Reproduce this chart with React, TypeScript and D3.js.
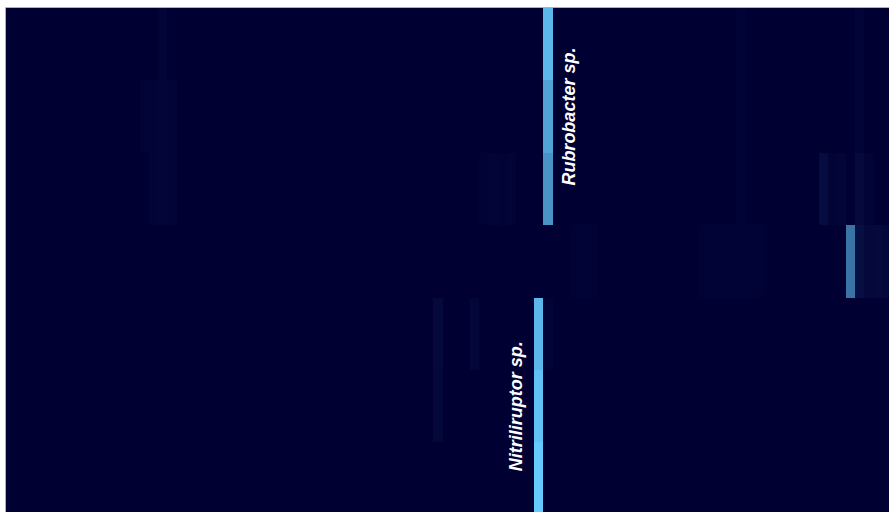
import * as d3 from 'd3';
import React from 'react';

// samples (rows) and taxa (columns) of the abundance heatmap
const sampleIds = ['S1', 'S2', 'S3', 'S4', 'S5', 'S6', 'S7'];
const taxonCount = 100;

// sparse cells: [sample index, taxon index, relative abundance 0..1]
const cells: [number, number, number][] = [
  // Rubrobacter sp.
  [0, 59, 0.9], [1, 59, 0.8], [2, 59, 0.72],
  // Nitriliruptor sp.
  [4, 58, 0.9], [5, 58, 0.95], [6, 58, 0.99],
  // strongest cell of sample 4
  [3, 92, 0.57], [3, 93, 0.07], [3, 94, 0.04], [3, 95, 0.05], [3, 96, 0.035],
  // faint background hits
  [0, 17, 0.015], [1, 15, 0.02], [1, 16, 0.022], [1, 17, 0.025], [1, 18, 0.015],
  [2, 16, 0.018], [2, 17, 0.025], [2, 18, 0.018],
  [4, 47, 0.04], [5, 47, 0.035], [4, 51, 0.03], [4, 59, 0.02],
  [2, 52, 0.012], [2, 53, 0.018], [2, 54, 0.012], [2, 55, 0.018],
  [2, 89, 0.06], [2, 90, 0.02], [2, 91, 0.025], [2, 93, 0.045], [2, 94, 0.015],
  [0, 93, 0.02], [1, 93, 0.02],
  [3, 62, 0.01], [3, 63, 0.01], [3, 64, 0.01],
  [3, 76, 0.01], [3, 77, 0.012], [3, 78, 0.008], [3, 79, 0.012], [3, 80, 0.012], [3, 81, 0.008], [3, 82, 0.012],
  [0, 80, 0.008], [1, 80, 0.008], [2, 80, 0.01],
];

const annotations = [
  { taxon: 59, from: 0, to: 2, text: 'Rubrobacter sp.', side: 'right' },
  { taxon: 58, from: 4, to: 6, text: 'Nitriliruptor sp.', side: 'left' },
];

const W = 889;
const H = 512;
const clipX = 6;
const clipY = 8;

const App: React.FC = () => {
  const colW = 9.17;
  const x = d3.scaleBand<number>()
    .domain(d3.range(taxonCount))
    .range([2.4, 2.4 + taxonCount * colW]);
  const y = d3.scaleBand<string>()
    .domain(sampleIds)
    .range([clipY, clipY + sampleIds.length * 72.4]);
  const color = d3.scaleSequential(d3.interpolateRgb('#000033', '#66ccff')).domain([0, 1]);

  return (
    <svg width={W} height={H} style={{ position: 'absolute', left: 0, top: 0 }}>
      <defs>
        <clipPath id="hm-clip">
          <rect x={clipX} y={clipY} width={W} height={H} />
        </clipPath>
      </defs>
      <g clipPath="url(#hm-clip)">
        <rect x={clipX} y={clipY} width={W} height={H} fill={color(0)} />
        <g shapeRendering="crispEdges">
          {cells.map(([r, c, v]) => (
            <rect
              key={`${r}-${c}`}
              x={x(c)}
              y={y(sampleIds[r])}
              width={x.bandwidth()}
              height={y.bandwidth()}
              fill={color(v)}
            />
          ))}
        </g>
        {annotations.map(a => {
          const x0 = x(a.taxon) as number;
          const yTop = y(sampleIds[a.from]) as number;
          const yBot = (y(sampleIds[a.to]) as number) + y.bandwidth();
          const cy = (yTop + yBot) / 2;
          const bx = a.side === 'right' ? x0 + x.bandwidth() + 22 : x0 - 12;
          return (
            <text
              key={a.text}
              transform={`translate(${bx},${cy}) rotate(-90)`}
              textAnchor="middle"
              fill="#ffffff"
              fontFamily="'Liberation Sans', Arial, sans-serif"
              fontSize={18}
              fontWeight="bold"
              fontStyle="italic"
            >
              {a.text}
            </text>
          );
        })}
      </g>
      <line x1={clipX - 0.5} x2={W} y1={clipY - 0.5} y2={clipY - 0.5} stroke="#b0b0b0" />
      <line x1={clipX - 0.5} x2={clipX - 0.5} y1={clipY - 0.5} y2={H} stroke="#b0b0b0" />
    </svg>
  );
};

export default App;
